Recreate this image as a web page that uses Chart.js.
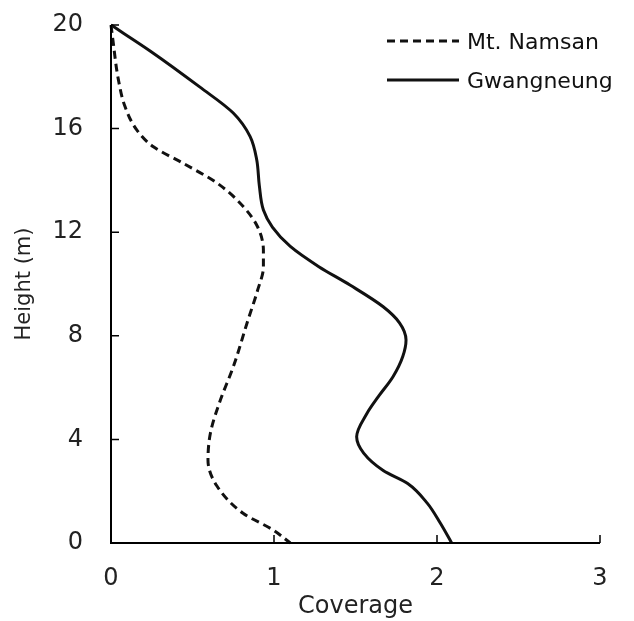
<html>
<head>
<style>
  body { margin: 0; background: #fff; }
  #wrap { position: relative; width: 634px; height: 621px; }
</style>
</head>

<body>
<div id="wrap">
  <canvas id="chart"></canvas>
</div>

<script src="https://cdn.jsdelivr.net/npm/chart.js@4.4.1/dist/chart.umd.min.js"></script>

<script>
// values: coverage (x) against height in metres (y)
let namsanCoverage = [0, 0.012, 0.045, 0.086, 0.158, 0.26, 0.44, 0.65, 0.81, 0.90, 0.935, 0.935, 0.90, 0.84, 0.75, 0.67, 0.61, 0.595, 0.65, 0.81, 0.995, 1.10]
let namsanHeight   = [20, 19.4, 17.9, 16.85, 15.95, 15.3, 14.67, 13.9, 13.0, 12.2, 11.3, 10.65, 9.77, 8.6, 6.8, 5.5, 4.25, 3.2, 2.2, 1.15, 0.5, 0]

let gwangCoverage = [0, 0.24, 0.546, 0.75, 0.853, 0.894, 0.91, 0.935, 0.99, 1.10, 1.275, 1.466, 1.67, 1.77, 1.81, 1.79, 1.73, 1.64, 1.57, 1.507, 1.55, 1.67, 1.82, 1.94, 2.02, 2.09]
let gwangHeight   = [20, 19.0, 17.6, 16.6, 15.7, 14.8, 13.8, 12.86, 12.2, 11.45, 10.67, 9.96, 9.12, 8.5, 7.84, 7.2, 6.42, 5.65, 5.0, 4.1, 3.47, 2.8, 2.3, 1.54, 0.77, 0]

let seriesNames = ['Mt. Namsan', 'Gwangneung']
let xTicks = [0, 1, 2, 3]
let yTicks = [0, 4, 8, 12, 16, 20]

const FONT = '"DejaVu Sans", sans-serif'

function toPoints(xs, ys) {
  return xs.map((x, i) => ({ x: x, y: ys[i] }))
}

// axis lines, inward tick marks and the legend inside the plot
const decorations = {
  id: 'decorations',
  afterDraw(chart) {
    const ctx = chart.ctx
    const area = chart.chartArea
    const xs = chart.scales.x
    const ys = chart.scales.y
    ctx.save()
    ctx.strokeStyle = '#000'
    ctx.lineWidth = 2
    ctx.beginPath()
    ctx.moveTo(area.left, area.top)
    ctx.lineTo(area.left, area.bottom)
    ctx.lineTo(area.right, area.bottom)
    ctx.stroke()

    ctx.lineWidth = 1.5
    ctx.beginPath()
    yTicks.forEach(v => {
      let py = ys.getPixelForValue(v)
      ctx.moveTo(area.left, py)
      ctx.lineTo(area.left + 8, py)
    })
    xTicks.forEach(v => {
      let px = xs.getPixelForValue(v)
      ctx.moveTo(px, area.bottom)
      ctx.lineTo(px, area.bottom - 8)
    })
    ctx.stroke()

    // legend
    chart.data.datasets.forEach((ds, i) => {
      let ly = area.top + 16 + i * 39
      let lx = area.right - 213
      ctx.lineWidth = ds.borderWidth
      ctx.strokeStyle = ds.borderColor
      ctx.setLineDash(ds.borderDash || [])
      ctx.beginPath()
      ctx.moveTo(lx, ly)
      ctx.lineTo(lx + 72, ly)
      ctx.stroke()
      ctx.setLineDash([])
      ctx.fillStyle = '#111'
      ctx.font = '22px ' + FONT
      ctx.textBaseline = 'middle'
      ctx.textAlign = 'left'
      ctx.fillText(ds.label, lx + 80, ly + 2)
    })
    ctx.restore()
  }
}

window.onload = function () {
  const ctx = document.getElementById('chart').getContext('2d')
  new Chart(ctx, {
    type: 'scatter',
    data: {
      datasets: [
        {
          label: seriesNames[0],
          data: toPoints(namsanCoverage, namsanHeight),
          showLine: true,
          borderColor: '#111',
          borderWidth: 3,
          borderDash: [8, 5],
          pointRadius: 0,
          cubicInterpolationMode: 'monotone',
          fill: false,
          clip: false,
        },
        {
          label: seriesNames[1],
          data: toPoints(gwangCoverage, gwangHeight),
          showLine: true,
          borderColor: '#111',
          borderWidth: 3,
          pointRadius: 0,
          cubicInterpolationMode: 'monotone',
          fill: false,
          clip: false,
        },
      ],
    },
    options: {
      indexAxis: 'y', // curves are coverage as a function of height
      responsive: true,
      maintainAspectRatio: false,
      animation: false,
      layout: { padding: { top: 25, right: 34, left: 0, bottom: 0 } },
      plugins: {
        legend: { display: false },
        tooltip: { enabled: false },
      },
      scales: {
        x: {
          type: 'linear',
          min: 0,
          max: 3,
          afterBuildTicks: s => { s.ticks = xTicks.map(v => ({ value: v })) },
          afterFit: s => { s.height = 78; s.paddingLeft = 0; s.paddingRight = 0 },
          grid: { display: false, drawTicks: false },
          border: { display: false },
          ticks: { color: '#222', padding: 21, font: { family: FONT, size: 24 } },
          title: {
            display: true,
            text: 'Coverage',
            color: '#222',
            padding: { top: 0, bottom: 0 },
            font: { family: FONT, size: 24 },
          },
        },
        y: {
          type: 'linear',
          min: 0,
          max: 20,
          afterBuildTicks: s => { s.ticks = yTicks.map(v => ({ value: v })) },
          afterFit: s => { s.width = 111; s.paddingTop = 0; s.paddingBottom = 0 },
          grid: { display: false, drawTicks: false },
          border: { display: false },
          ticks: { color: '#222', padding: 28, font: { family: FONT, size: 24 } },
          title: {
            display: true,
            text: 'Height (m)',
            color: '#222',
            padding: { top: 12, bottom: 0 },
            font: { family: FONT, size: 21 },
          },
        },
      },
    },
    plugins: [decorations],
  })
}
</script>

</body>
</html>
